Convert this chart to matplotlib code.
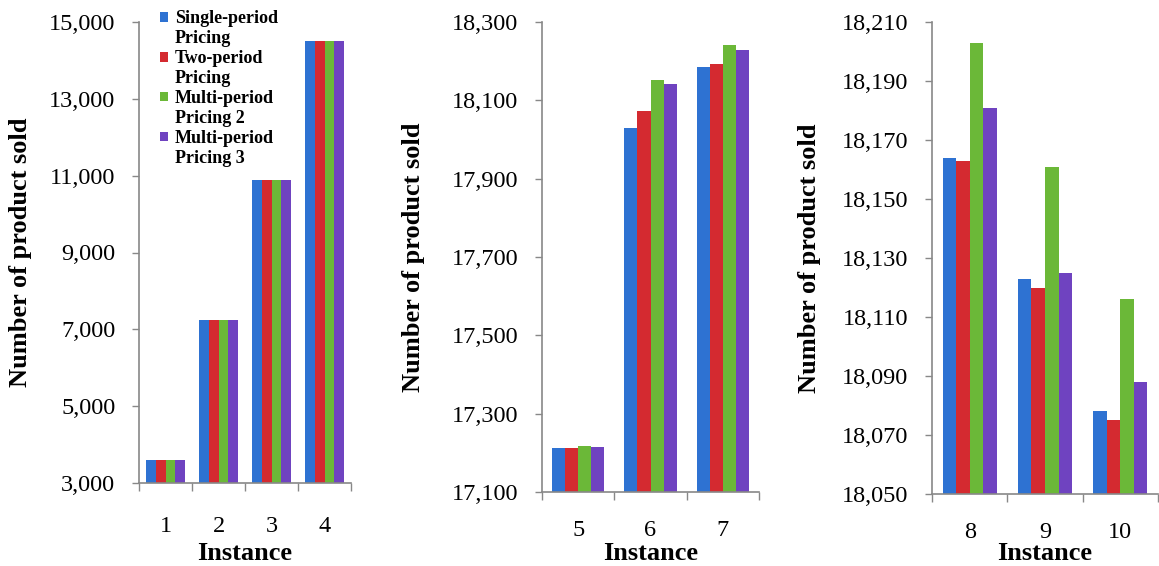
import numpy as np
import matplotlib
matplotlib.use("Agg")
import matplotlib.pyplot as plt
from matplotlib.patches import Patch
from matplotlib.ticker import FuncFormatter, FixedLocator

# данные
instances = [1, 2, 3, 4, 5, 6, 7, 8, 9, 10]
single_period = [3600, 7250, 10900, 14500, 17212, 18030, 18186, 18164, 18123, 18078]
two_period = [3600, 7250, 10900, 14500, 17213, 18074, 18193, 18163, 18120, 18075]
multi_period_2 = [3600, 7250, 10900, 14500, 17217, 18152, 18242, 18203, 18161, 18116]
multi_period_3 = [3600, 7250, 10900, 14500, 17215, 18142, 18228, 18181, 18125, 18088]

series_names = ["Single-period\nPricing", "Two-period\nPricing",
                "Multi-period\nPricing 2", "Multi-period\nPricing 3"]
colors = ["#2E72D2", "#D42A30", "#6BB838", "#6F43C0"]

panel_slices = [(0, 4), (4, 7), (7, 10)]
y_ranges = [(3000, 15000, 2000), (17100, 18300, 200), (18050, 18210, 20)]

plt.rcParams.update({
    "font.family": ["Liberation Serif", "DejaVu Serif"],
    "font.size": 17.5,
})

fig = plt.figure(figsize=(11.59, 5.66), dpi=100)
W, H = 1159, 566
# положения осей в пикселях: left, right, top, bottom
boxes = [(139, 351, 22, 483), (542, 759, 22, 492), (932, 1158, 22, 494)]
ylabel_x = [-0.56, -0.59, -0.54]
xtick_pad = [24, 20, 20]

data = np.array([single_period, two_period, multi_period_2, multi_period_3])
bar_w = 0.18
offsets = (np.arange(4) - 1.5) * bar_w

axes = []
for k, ((i0, i1), (ymin, ymax, step), (l, r, t, b)) in enumerate(
        zip(panel_slices, y_ranges, boxes)):
    ax = fig.add_axes([l / W, (H - b) / H, (r - l) / W, (b - t) / H])
    x = np.arange(i1 - i0)
    for s in range(4):
        ax.bar(x + offsets[s], data[s, i0:i1], width=bar_w, color=colors[s],
               linewidth=0, zorder=2)
    ax.set_xlim(-0.5, len(x) - 0.5)
    ax.set_ylim(ymin, ymax)
    ax.set_yticks(np.arange(ymin, ymax + step / 2, step))
    ax.yaxis.set_major_formatter(FuncFormatter(lambda v, p: f"{v:,.0f}"))

    ax.set_xticks(x)
    ax.set_xticklabels([str(n) for n in instances[i0:i1]])
    ax.xaxis.set_minor_locator(FixedLocator(np.arange(-0.5, len(x), 1.0)))
    ax.tick_params(axis="x", which="major", length=0, pad=xtick_pad[k])
    ax.tick_params(axis="x", which="minor", length=6, color="#888888", width=1)
    ax.tick_params(axis="y", length=5, color="#888888", width=1, pad=12)

    for side in ["top", "right"]:
        ax.spines[side].set_visible(False)
    for side in ["left", "bottom"]:
        ax.spines[side].set_color("#888888")
        ax.spines[side].set_linewidth(1.2)

    ax.set_xlabel("Instance", fontweight="bold", fontsize=19)
    ax.xaxis.label.set_va("center")
    ax.xaxis.set_label_coords(0.5, -(554 - b) / (b - t))
    ax.set_ylabel("Number of product sold", fontweight="bold", fontsize=19)
    ax.yaxis.label.set_va("center")
    ax.yaxis.set_label_coords(ylabel_x[k], 0.5)
    axes.append(ax)

# легенда: маркер только у первой строки подписи
handles, labels = [], []
for name, c in zip(series_names, colors):
    first, second = name.split("\n")
    handles += [Patch(facecolor=c, edgecolor="none"),
                Patch(facecolor="none", edgecolor="none")]
    labels += [first, second]
axes[0].legend(handles, labels, loc="upper left", bbox_to_anchor=(0.10, 1.025),
               frameon=False, prop={"weight": "bold", "size": 13},
               handlelength=0.45, handleheight=0.45, handletextpad=0.35,
               labelspacing=0.16, borderpad=0, borderaxespad=0)

fig.savefig("out.png", dpi=100)
